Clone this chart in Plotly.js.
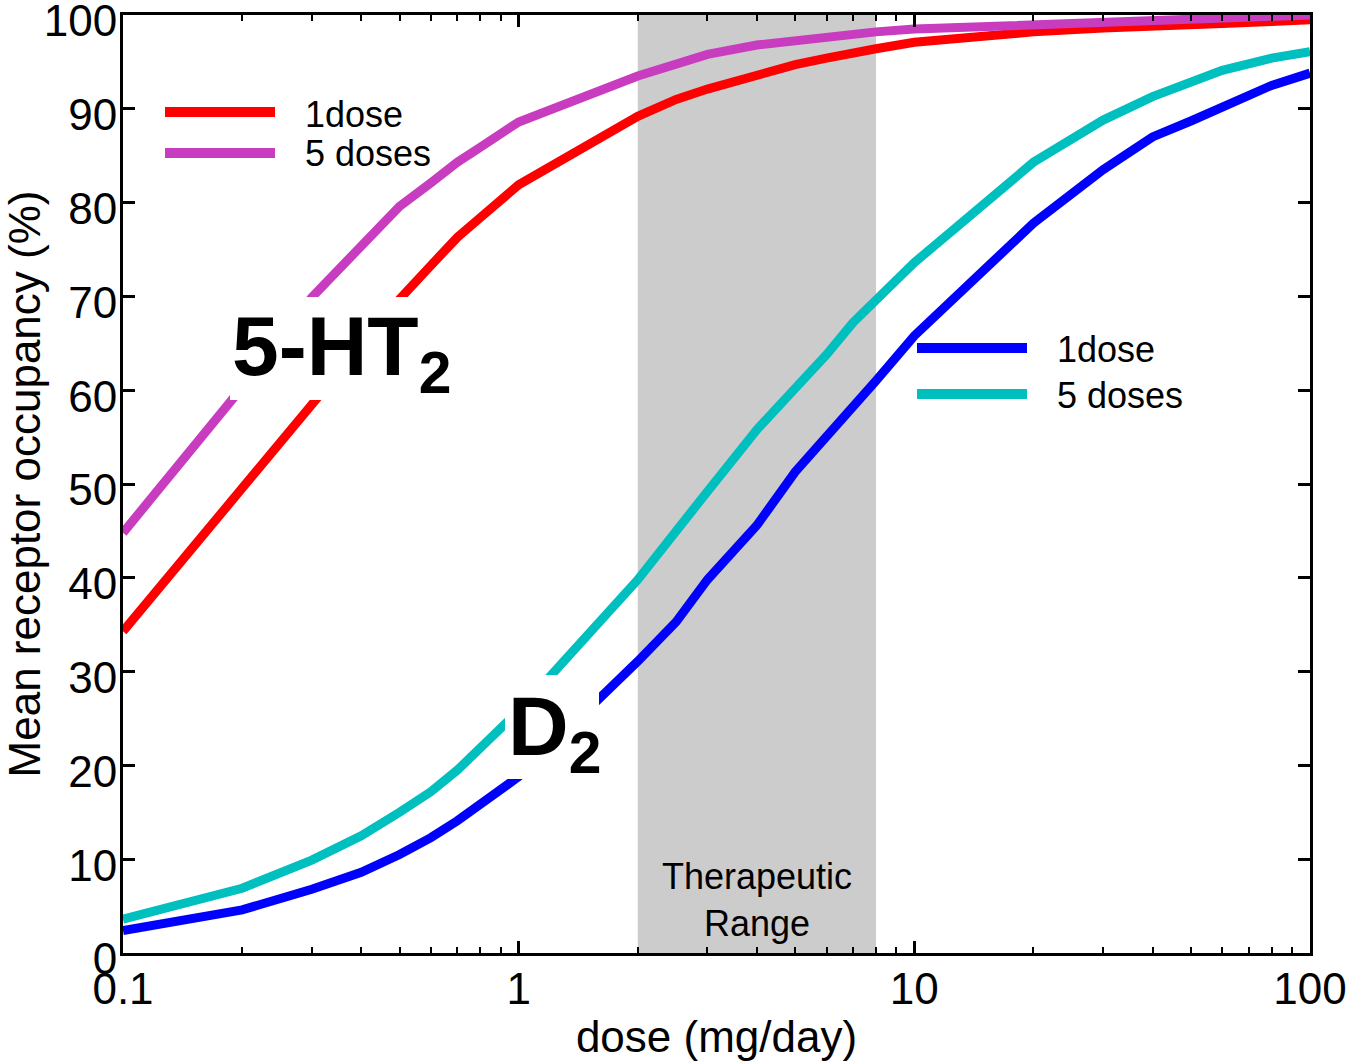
<!DOCTYPE html>
<html>
<head>
<meta charset="utf-8">
<script src="https://cdn.plot.ly/plotly-3.0.1.min.js"></script>
<style>
  html, body { margin: 0; padding: 0; background: #ffffff; }
  #chart { width: 1350px; height: 1061px; }
</style>
</head>
<body>
<div id="chart"></div>
<script>
// ---- data ----
const dose = [0.1, 0.2, 0.3, 0.4, 0.5, 0.6, 0.7, 0.8, 1, 2, 2.5, 3, 4, 5, 6, 7, 8, 10, 20, 30, 40, 50, 60, 80, 100];
const ht2OneDose   = [34.3, 49.5, 58.4, 64.7, 69.7, 73.3, 76.3, 78.4, 81.9, 89.2, 91.0, 92.1, 93.7, 94.7, 95.4, 96.0, 96.4, 97.1, 98.2, 98.6, 98.9, 99.0, 99.1, 99.3, 99.5];
const ht2FiveDoses = [44.8, 60.3, 69.9, 75.3, 79.6, 82.1, 84.3, 85.9, 88.6, 93.5, 94.9, 95.8, 96.8, 97.3, 97.7, 98.0, 98.2, 98.5, 99.0, 99.3, 99.5, 99.6, 99.7, 99.9, 100];
const d2OneDose    = [2.4, 4.6, 6.8, 8.6, 10.5, 12.3, 14.1, 15.9, 18.8, 31.1, 35.3, 39.8, 45.6, 51.3, 55.0, 58.2, 61.0, 65.8, 77.8, 83.5, 87.0, 88.7, 90.2, 92.5, 93.8];
const d2FiveDoses  = [3.6, 6.9, 9.9, 12.5, 15.0, 17.2, 19.5, 21.8, 25.8, 39.8, 44.8, 49.2, 55.8, 60.2, 63.8, 67.2, 69.5, 73.6, 84.3, 88.8, 91.3, 92.9, 94.1, 95.4, 96.1];
const therapeuticRange = [2, 8];
const xTickVals = [0.1, 1, 10, 100];
const xTickText = ['0.1', '1', '10', '100'];
const xMinorVals = [0.2, 0.3, 0.4, 0.5, 0.6, 0.7, 0.8, 0.9, 2, 3, 4, 5, 6, 7, 8, 9, 20, 30, 40, 50, 60, 70, 80, 90];
const legendLabels = ['1dose', '5 doses'];

// ---- styles ----
const FONT = 'Liberation Sans, Arial, sans-serif';
const LW = 9;
const colors = { red: '#ff0000', purple: '#c83cc0', blue: '#0000ff', cyan: '#00bfbf' };

// plot-area pixel helpers (plot area: x 123..1310, y 15..953)
const L = 123, R = 1310, T = 15, B = 953;
const px = v => (v - L) / (R - L);
const py = v => (B - v) / (B - T);

function trace(y, color, name) {
  return { x: dose, y: y, type: 'scatter', mode: 'lines', name: name,
           line: { color: color, width: LW }, showlegend: false, hoverinfo: 'x+y' };
}

const data = [
  trace(d2OneDose, colors.blue, 'D2 ' + legendLabels[0]),
  trace(d2FiveDoses, colors.cyan, 'D2 ' + legendLabels[1]),
  trace(ht2OneDose, colors.red, '5-HT2 ' + legendLabels[0]),
  trace(ht2FiveDoses, colors.purple, '5-HT2 ' + legendLabels[1])
];

const shapes = [
  { type: 'rect', xref: 'x', yref: 'paper', x0: therapeuticRange[0], x1: therapeuticRange[1], y0: 0, y1: 1,
    fillcolor: '#cccccc', line: { width: 0 }, layer: 'below' },
  // white label boxes
  { type: 'rect', xref: 'paper', yref: 'paper', x0: px(230), x1: px(456), y0: py(400), y1: py(297),
    fillcolor: '#ffffff', line: { width: 0 }, layer: 'above' },
  { type: 'rect', xref: 'paper', yref: 'paper', x0: px(505), x1: px(599), y0: py(779), y1: py(675),
    fillcolor: '#ffffff', line: { width: 0 }, layer: 'above' },
  // legend line samples
  { type: 'line', xref: 'paper', yref: 'paper', x0: px(165), x1: px(275), y0: py(112), y1: py(112),
    line: { color: colors.red, width: 10 }, layer: 'above' },
  { type: 'line', xref: 'paper', yref: 'paper', x0: px(165), x1: px(275), y0: py(153), y1: py(153),
    line: { color: colors.purple, width: 10 }, layer: 'above' },
  { type: 'line', xref: 'paper', yref: 'paper', x0: px(917), x1: px(1027), y0: py(348), y1: py(348),
    line: { color: colors.blue, width: 10 }, layer: 'above' },
  { type: 'line', xref: 'paper', yref: 'paper', x0: px(917), x1: px(1027), y0: py(394), y1: py(394),
    line: { color: colors.cyan, width: 10 }, layer: 'above' }
];

function label(text, x, y, size, opts) {
  return Object.assign({ text: text, xref: 'paper', yref: 'paper', x: x, y: y, showarrow: false,
    xanchor: 'left', yanchor: 'middle', font: { family: FONT, size: size, color: '#000000' } }, opts || {});
}

const annotations = [
  label(legendLabels[0], px(303), py(114), 36),
  label(legendLabels[1], px(303), py(153), 36),
  label(legendLabels[0], px(1055), py(350), 36),
  label(legendLabels[1], px(1055), py(396), 36),
  label('<b>5-HT<sub>2</sub></b>', px(230), py(352), 84),
  label('<b>D<sub>2</sub></b>', px(506), py(732), 84),
  label('Therapeutic<br>Range', px(757), py(900), 36, { xanchor: 'center' })
];

const layout = {
  width: 1350, height: 1061,
  margin: { l: L, r: 1350 - R, t: T, b: 1061 - B, pad: 0 },
  paper_bgcolor: '#ffffff', plot_bgcolor: '#ffffff',
  font: { family: FONT, color: '#000000' },
  showlegend: false,
  xaxis: {
    type: 'log', range: [-1, 2], tickmode: 'array', tickvals: xTickVals, ticktext: xTickText,
    ticks: 'inside', ticklen: 12, tickwidth: 3, tickcolor: '#000000',
    showline: true, linewidth: 3, linecolor: '#000000', mirror: 'ticks',
    showgrid: false, zeroline: false, ticklabeloverflow: 'allow', ticklabelstandoff: -5,
    tickfont: { family: FONT, size: 44, color: '#000000' },
    minor: { tickmode: 'array', tickvals: xMinorVals, ticks: 'inside', ticklen: 6, tickwidth: 2, tickcolor: '#000000', showgrid: false },
    title: { text: 'dose (mg/day)', font: { family: FONT, size: 44, color: '#000000' }, standoff: 13 }
  },
  yaxis: {
    range: [0, 100], tickmode: 'linear', tick0: 0, dtick: 10,
    ticks: 'inside', ticklen: 12, tickwidth: 3, tickcolor: '#000000',
    showline: true, linewidth: 3, linecolor: '#000000', mirror: 'ticks',
    showgrid: false, zeroline: false, ticklabeloverflow: 'allow', ticklabelstandoff: -6, ticklabelshift: 6,
    tickfont: { family: FONT, size: 44, color: '#000000' },
    title: { text: 'Mean receptor occupancy (%)', font: { family: FONT, size: 44, color: '#000000' }, standoff: 14 }
  },
  shapes: shapes,
  annotations: annotations
};

Plotly.newPlot('chart', data, layout, { displayModeBar: false, staticPlot: true });
</script>
</body>
</html>
